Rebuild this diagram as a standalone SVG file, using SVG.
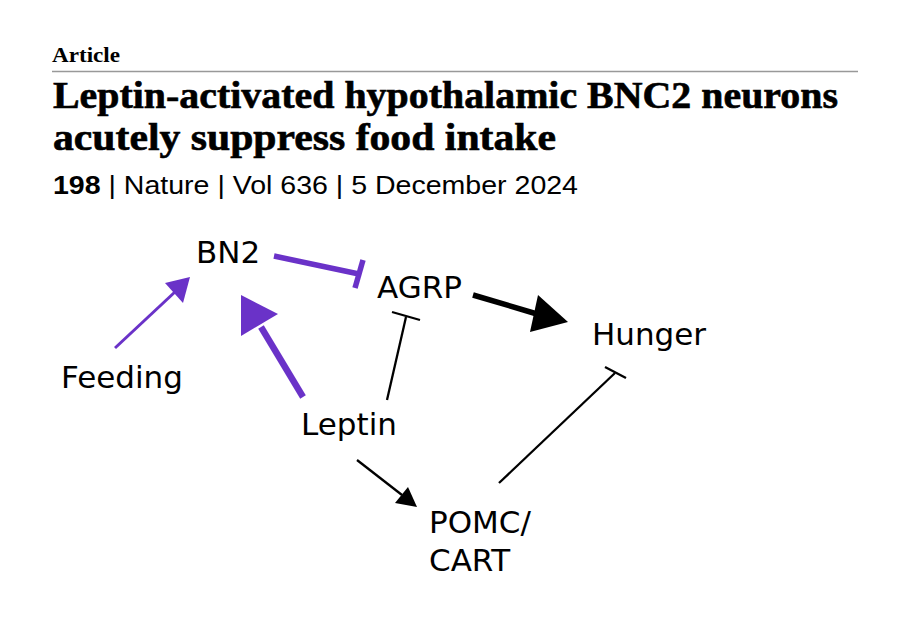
<svg xmlns="http://www.w3.org/2000/svg" width="910" height="618" viewBox="0 0 910 618">
<style>
.hdr{font-family:"Liberation Serif","DejaVu Serif",serif;font-weight:bold;fill:#000}
.meta{font-family:"Liberation Sans","Noto Sans",sans-serif;fill:#000}
.lbl{font-family:"DejaVu Sans",Verdana,sans-serif;font-size:31px;fill:#000}
.p{stroke:#6a32c8;fill:none;stroke-linecap:butt}
.k{stroke:#000;fill:none;stroke-linecap:butt}
.ph{fill:#6a32c8}
.kh{fill:#000}
</style>
<rect width="910" height="618" fill="#fff"/>
<g id="header">
<text class="hdr" x="52" y="62" font-size="21" textLength="68" lengthAdjust="spacingAndGlyphs">Article</text>
<line x1="52" y1="71.5" x2="858" y2="71.5" stroke="#999" stroke-width="1.5"/>
<text class="hdr" x="53" y="108" font-size="37" textLength="785" lengthAdjust="spacingAndGlyphs" stroke="#000" stroke-width="0.6">Leptin-activated hypothalamic BNC2 neurons</text>
<text class="hdr" x="53" y="150" font-size="37" textLength="503" lengthAdjust="spacingAndGlyphs" stroke="#000" stroke-width="0.6">acutely suppress food intake</text>
<text class="meta" x="53" y="194" font-size="25" textLength="525" lengthAdjust="spacingAndGlyphs"><tspan font-weight="bold">198</tspan> | Nature | Vol 636 | 5 December 2024</text>
</g>
<g id="connectors">
<g id="feeding-bn2">
<line class="p" x1="115" y1="348" x2="176" y2="291" stroke-width="3"/>
<polygon class="ph" points="190,277 165,283 183,303"/>
</g>
<g id="leptin-bn2">
<line class="p" x1="303" y1="397" x2="261" y2="327" stroke-width="6.5"/>
<polygon class="ph" points="241,295 241,336 278,314"/>
</g>
<g id="bn2-agrp">
<line class="p" x1="274" y1="256" x2="359" y2="274" stroke-width="5.5"/>
<line class="p" x1="363" y1="260" x2="355" y2="288" stroke-width="5.5"/>
</g>
<g id="leptin-agrp">
<line class="k" x1="387" y1="400" x2="406" y2="317" stroke-width="2.3"/>
<line class="k" x1="392" y1="312" x2="420" y2="320" stroke-width="2.3"/>
</g>
<g id="agrp-hunger">
<line class="k" x1="473" y1="295" x2="537" y2="314" stroke-width="5.5"/>
<polygon class="kh" points="568,322 538,295 530,332"/>
</g>
<g id="leptin-pomc">
<line class="k" x1="357" y1="460" x2="402" y2="495" stroke-width="2.3"/>
<polygon class="kh" points="417,507 395,503 408,487"/>
</g>
<g id="pomc-hunger">
<line class="k" x1="499" y1="483" x2="615" y2="373" stroke-width="2.3"/>
<line class="k" x1="605" y1="367" x2="626" y2="378" stroke-width="2.3"/>
</g>
</g>
<g id="node-bn2"><text class="lbl" x="196" y="263">BN2</text></g>
<g id="node-agrp"><text class="lbl" x="377" y="298">AGRP</text></g>
<g id="node-hunger"><text class="lbl" x="592" y="345">Hunger</text></g>
<g id="node-feeding"><text class="lbl" x="61" y="388">Feeding</text></g>
<g id="node-leptin"><text class="lbl" x="301" y="435">Leptin</text></g>
<g id="node-pomc"><text class="lbl" x="429" y="533">POMC/</text><text class="lbl" x="429" y="571">CART</text></g>
</svg>
